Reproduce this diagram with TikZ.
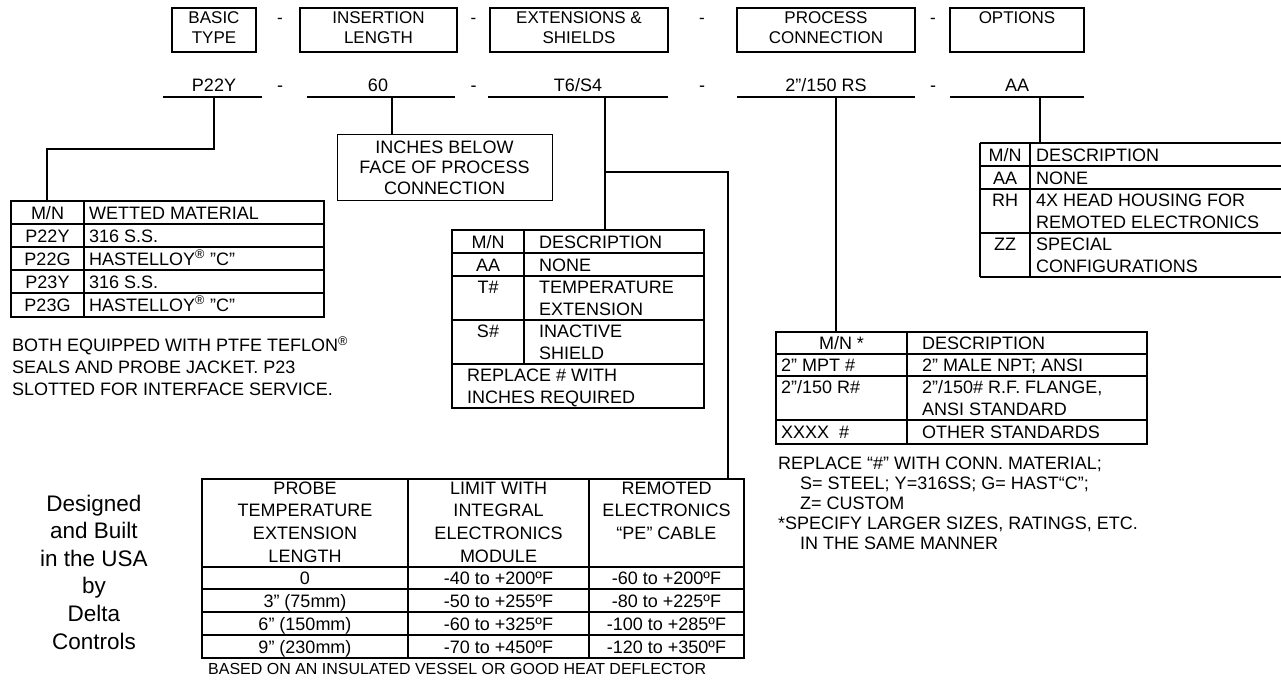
\documentclass[tikz,border=0pt]{standalone}
\usepackage{fontspec}
\setmainfont{Liberation Sans}
\usetikzlibrary{positioning}
\tikzset{
    txt/.style={inner sep=0pt, anchor=base},        % centred line of text
    ltxt/.style={inner sep=0pt, anchor=base west},  % left aligned line of text
    rule/.style={line width=1.1pt},                 % boxes and table lines
    link/.style={line width=1.8pt},                 % leader lines
    hd/.style={font=\fontsize{17}{20}\selectfont},
    note/.style={font=\fontsize{16}{18}\selectfont},
    big/.style={font=\fontsize{22.5}{27}\selectfont}
}

\begin{document}
\begin{tikzpicture}[x=1pt, y=-1pt, font=\fontsize{18}{22}\selectfont]
    \useasboundingbox (0,0) rectangle (1281,681);

    % model number header
    \foreach \nm/\xa/\xb/\la/\lb in {basic/172/256/BASIC/TYPE, ins/300/457/INSERTION/LENGTH,
        ext/490/668/EXTENSIONS \&/SHIELDS, proc/737/915/PROCESS/CONNECTION, opt/950/1084/OPTIONS/{}} {
        \draw[rule] (\xa,8) rectangle (\xb,52);
        \node[txt, hd] (\nm-a) at ({(\xa+\xb)/2},23) {\la};
        \node[txt, hd] (\nm-b) at ({(\xa+\xb)/2},43) {\lb};
    }
    \foreach \x [count=\i] in {280,473.5,702,933} {
        \node[txt, hd] (dash\i) at (\x,23) {-};
        \node[txt] (vdash\i) at (\x,91.5) {-};
    }

    % example model number
    \node[txt] (v-basic) at (214,91.5) {P22Y};
    \node[txt] (v-ins) at (378,91.5) {60};
    \node[txt] (v-ext) at (578,91.5) {T6/S4};
    \node[txt] (v-proc) at (826,91.5) {2”/150 RS};
    \node[txt] (v-opt) at (1017,91.5) {AA};
    \foreach \xa/\xb in {163/262, 307/455, 488/668, 737/915, 950/1084}
        \draw[rule] (\xa,97) -- (\xb,97);
    \coordinate (t-basic) at (214,97);
    \coordinate (t-ins) at (392,97);
    \coordinate (t-ext) at (605,97);
    \coordinate (t-proc) at (836,97);
    \coordinate (t-opt) at (1040,97);

    % wetted material
    \coordinate (wettop) at (47,201);
    \draw[rule] (11,201) rectangle (324,317);
    \foreach \y in {224,247,270,293} \draw[rule] (11,\y) -- (324,\y);
    \draw[rule] (84,201) -- (84,317);
    \foreach \mn/\desc [count=\i] in {{M/N}/WETTED MATERIAL, P22Y/316 S.S., P22G/{HASTELLOY\textsuperscript{®} "C”},
        P23Y/316 S.S., P23G/{HASTELLOY\textsuperscript{®} "C”}} {
        \node[txt] (wm\i) at (47.5,196+23*\i) {\mn};
        \node[ltxt] (wd\i) at (89,196+23*\i) {\desc};
    }
    \node[ltxt] (wn1) at (12,351.5) {BOTH EQUIPPED WITH PTFE TEFLON\textsuperscript{®}};
    \node[ltxt] (wn2) at (12,373.5) {SEALS AND PROBE JACKET. P23};
    \node[ltxt] (wn3) at (12,395.5) {SLOTTED FOR INTERFACE SERVICE.};
    \coordinate (bend-basic) at (214,149);
    \draw[link] (t-basic) -- (bend-basic) -| (wettop);

    % insertion length
    \node[draw, rule, minimum width=215, minimum height=66, anchor=north west, inner sep=0pt] (inches) at (337,134) {};
    \foreach \t/\y [count=\i] in {INCHES BELOW/153.5, FACE OF PROCESS/173.5, CONNECTION/194.5}
        \node[txt] (in\i) at (444.5,\y) {\t};
    \draw[link] (t-ins) -- (inches.north -| t-ins);

    % extensions and shields
    \coordinate (exttop) at (605,230);
    \draw[rule] (452,230) rectangle (704,408);
    \foreach \y in {253,276,320,364} \draw[rule] (452,\y) -- (704,\y);
    \draw[rule] (524,230) -- (524,364);
    \node[txt] (em1) at (488,248) {M/N};
    \node[txt] (em2) at (488,271) {AA};
    \node[txt] (em3) at (488,293.5) {T\#};
    \node[txt] (em4) at (488,337.5) {S\#};
    \foreach \t/\y [count=\i] in {DESCRIPTION/248, NONE/271, TEMPERATURE/293.5, EXTENSION/315.5, INACTIVE/337.5, SHIELD/359.5}
        \node[ltxt] (ed\i) at (539,\y) {\t};
    \node[ltxt] (er1) at (467,381.5) {REPLACE \# WITH};
    \node[ltxt] (er2) at (467,403.5) {INCHES REQUIRED};
    \coordinate (branch) at (605,172);
    \coordinate (temptop) at (728,479);
    \draw[link] (t-ext) -- (exttop);
    \draw[link] (branch) -| (temptop);

    % temperature limits
    \draw[rule] (202,479) rectangle (744,658);
    \foreach \y in {567,589,612,635} \draw[rule] (202,\y) -- (744,\y);
    \foreach \x in {408,589} \draw[rule] (\x,479) -- (\x,658);
    \foreach \a/\b/\c/\y [count=\i] in {PROBE/LIMIT WITH/REMOTED/494.5, TEMPERATURE/INTEGRAL/ELECTRONICS/516.5,
        EXTENSION/ELECTRONICS/“PE” CABLE/539.5, LENGTH/MODULE/{}/562.5,
        0/-40 to +200ºF/-60 to +200ºF/584.5, 3” (75mm)/-50 to +255ºF/-80 to +225ºF/607,
        6” (150mm)/-60 to +325ºF/-100 to +285ºF/630, 9” (230mm)/-70 to +450ºF/-120 to +350ºF/653} {
        \node[txt] (ta\i) at (305,\y) {\a};
        \node[txt] (tb\i) at (498.5,\y) {\b};
        \node[txt] (tc\i) at (666.5,\y) {\c};
    }
    \node[ltxt, note] (tnote) at (208,674) {BASED ON AN INSULATED VESSEL OR GOOD HEAT DEFLECTOR};

    % process connection
    \coordinate (proctop) at (836,332);
    \draw[rule] (776,332) rectangle (1147,444);
    \foreach \y in {354,376,420} \draw[rule] (776,\y) -- (1147,\y);
    \draw[rule] (907,332) -- (907,444);
    \node[txt] (pm1) at (841.5,349.5) {M/N *};
    \node[ltxt] (pm2) at (781,371.5) {2” MPT \#};
    \node[ltxt] (pm3) at (781,393.5) {2”/150 R\#};
    \node[ltxt] (pm4) at (781,438.5) {XXXX~~\#};
    \foreach \t/\y [count=\i] in {DESCRIPTION/349.5, 2” MALE NPT; ANSI/371.5, {2”/150\# R.F. FLANGE,}/393.5,
        ANSI STANDARD/415.5, OTHER STANDARDS/438.5}
        \node[ltxt] (pd\i) at (922,\y) {\t};
    \node[ltxt] (pn1) at (778,469) {REPLACE “\#” WITH CONN. MATERIAL;};
    \node[ltxt] (pn2) at (800,489) {S= STEEL; Y=316SS; G= HAST“C”;};
    \node[ltxt] (pn3) at (800,509) {Z= CUSTOM};
    \node[ltxt] (pn4) at (778,529) {*SPECIFY LARGER SIZES, RATINGS, ETC.};
    \node[ltxt] (pn5) at (800,549) {IN THE SAME MANNER};
    \draw[link] (t-proc) -- (proctop);

    % options
    \coordinate (opttop) at (1040,143);
    \foreach \y in {143,166,189,233,277} \draw[rule] (980,\y) -- (1282,\y);
    \foreach \x in {980,1030} \draw[rule] (\x,143) -- (\x,277);
    \node[txt] (om1) at (1005,161) {M/N};
    \node[txt] (om2) at (1005,184) {AA};
    \node[txt] (om3) at (1005,206.5) {RH};
    \node[txt] (om4) at (1005,250.5) {ZZ};
    \foreach \t/\y [count=\i] in {DESCRIPTION/161, NONE/184, 4X HEAD HOUSING FOR/206.5, REMOTED ELECTRONICS/228.5,
        SPECIAL/250.5, CONFIGURATIONS/272.5}
        \node[ltxt] (od\i) at (1036,\y) {\t};
    \draw[link] (t-opt) -- (opttop);

    % maker
    \foreach \t/\y [count=\i] in {Designed/511, and Built/538.6, in the USA/566.2, by/593.8, Delta/621.4, Controls/649}
        \node[txt, big] (mk\i) at (94,\y) {\t};
\end{tikzpicture}
\end{document}
